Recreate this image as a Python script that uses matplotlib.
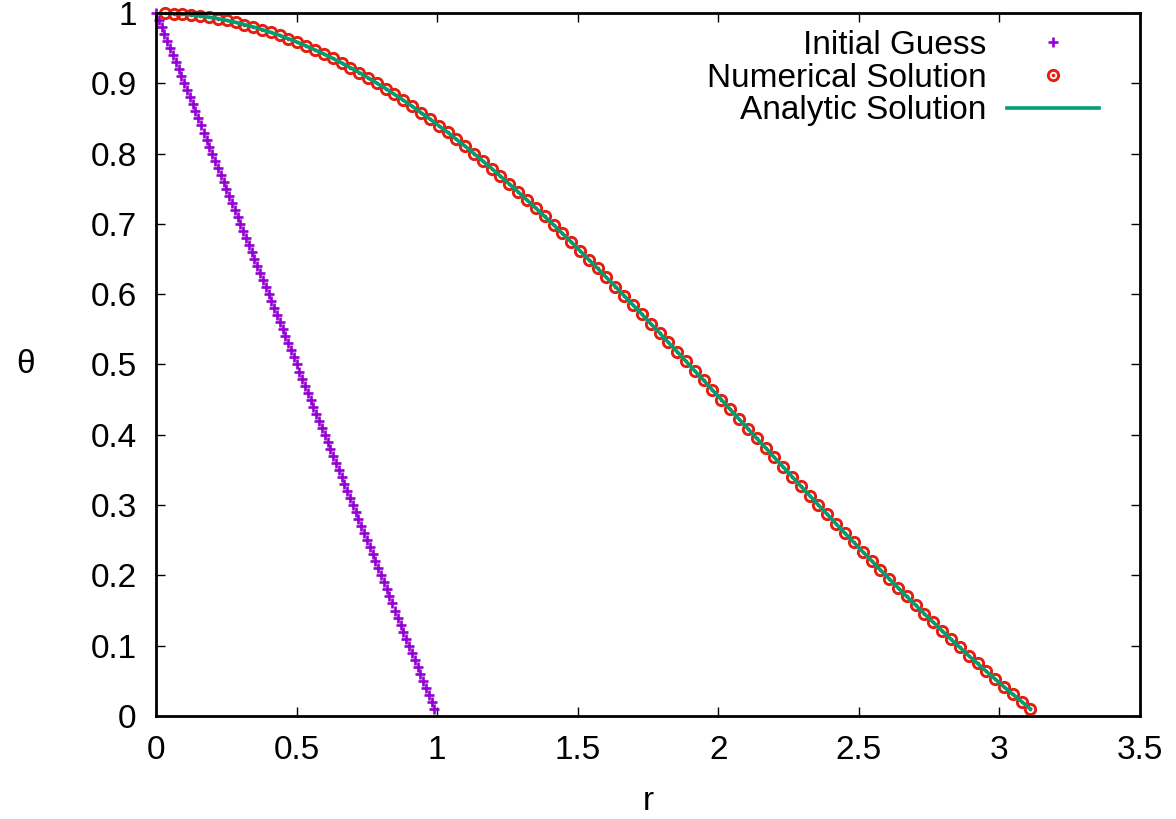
import matplotlib
matplotlib.use('Agg')
import matplotlib.pyplot as plt
from matplotlib.legend_handler import HandlerTuple

plt.rcParams['font.family'] = ['Liberation Sans', 'DejaVu Sans']

# initial guess (linear)
guess_r = [0.00, 0.01, 0.02, 0.03, 0.04, 0.05, 0.06, 0.07, 0.08, 0.09,
           0.10, 0.11, 0.12, 0.13, 0.14, 0.15, 0.16, 0.17, 0.18, 0.19,
           0.20, 0.21, 0.22, 0.23, 0.24, 0.25, 0.26, 0.27, 0.28, 0.29,
           0.30, 0.31, 0.32, 0.33, 0.34, 0.35, 0.36, 0.37, 0.38, 0.39,
           0.40, 0.41, 0.42, 0.43, 0.44, 0.45, 0.46, 0.47, 0.48, 0.49,
           0.50, 0.51, 0.52, 0.53, 0.54, 0.55, 0.56, 0.57, 0.58, 0.59,
           0.60, 0.61, 0.62, 0.63, 0.64, 0.65, 0.66, 0.67, 0.68, 0.69,
           0.70, 0.71, 0.72, 0.73, 0.74, 0.75, 0.76, 0.77, 0.78, 0.79,
           0.80, 0.81, 0.82, 0.83, 0.84, 0.85, 0.86, 0.87, 0.88, 0.89,
           0.90, 0.91, 0.92, 0.93, 0.94, 0.95, 0.96, 0.97, 0.98, 0.99]
guess_theta = [1.00, 0.99, 0.98, 0.97, 0.96, 0.95, 0.94, 0.93, 0.92, 0.91,
               0.90, 0.89, 0.88, 0.87, 0.86, 0.85, 0.84, 0.83, 0.82, 0.81,
               0.80, 0.79, 0.78, 0.77, 0.76, 0.75, 0.74, 0.73, 0.72, 0.71,
               0.70, 0.69, 0.68, 0.67, 0.66, 0.65, 0.64, 0.63, 0.62, 0.61,
               0.60, 0.59, 0.58, 0.57, 0.56, 0.55, 0.54, 0.53, 0.52, 0.51,
               0.50, 0.49, 0.48, 0.47, 0.46, 0.45, 0.44, 0.43, 0.42, 0.41,
               0.40, 0.39, 0.38, 0.37, 0.36, 0.35, 0.34, 0.33, 0.32, 0.31,
               0.30, 0.29, 0.28, 0.27, 0.26, 0.25, 0.24, 0.23, 0.22, 0.21,
               0.20, 0.19, 0.18, 0.17, 0.16, 0.15, 0.14, 0.13, 0.12, 0.11,
               0.10, 0.09, 0.08, 0.07, 0.06, 0.05, 0.04, 0.03, 0.02, 0.01]

# numerical solution points
num_r = [0.031, 0.063, 0.094, 0.126, 0.157, 0.188, 0.220, 0.251, 0.283, 0.314,
         0.346, 0.377, 0.408, 0.440, 0.471, 0.503, 0.534, 0.565, 0.597, 0.628,
         0.660, 0.691, 0.723, 0.754, 0.785, 0.817, 0.848, 0.880, 0.911, 0.942,
         0.974, 1.005, 1.037, 1.068, 1.100, 1.131, 1.162, 1.194, 1.225, 1.257,
         1.288, 1.319, 1.351, 1.382, 1.414, 1.445, 1.477, 1.508, 1.539, 1.571,
         1.602, 1.634, 1.665, 1.696, 1.728, 1.759, 1.791, 1.822, 1.854, 1.885,
         1.916, 1.948, 1.979, 2.011, 2.042, 2.073, 2.105, 2.136, 2.168, 2.199,
         2.231, 2.262, 2.293, 2.325, 2.356, 2.388, 2.419, 2.450, 2.482, 2.513,
         2.545, 2.576, 2.608, 2.639, 2.670, 2.702, 2.733, 2.765, 2.796, 2.827,
         2.859, 2.890, 2.922, 2.953, 2.985, 3.016, 3.047, 3.079, 3.110]
num_theta = [0.9998, 0.9993, 0.9985, 0.9974, 0.9959, 0.9941, 0.9920, 0.9895, 0.9867, 0.9836,
             0.9802, 0.9765, 0.9724, 0.9681, 0.9634, 0.9584, 0.9531, 0.9476, 0.9417, 0.9355,
             0.9290, 0.9223, 0.9152, 0.9079, 0.9003, 0.8925, 0.8843, 0.8759, 0.8673, 0.8584,
             0.8493, 0.8399, 0.8303, 0.8204, 0.8103, 0.8000, 0.7895, 0.7788, 0.7679, 0.7568,
             0.7455, 0.7341, 0.7224, 0.7106, 0.6987, 0.6865, 0.6743, 0.6618, 0.6493, 0.6366,
             0.6238, 0.6109, 0.5979, 0.5848, 0.5716, 0.5583, 0.5450, 0.5316, 0.5181, 0.5046,
             0.4910, 0.4774, 0.4637, 0.4500, 0.4363, 0.4226, 0.4089, 0.3952, 0.3816, 0.3679,
             0.3542, 0.3406, 0.3271, 0.3136, 0.3001, 0.2867, 0.2734, 0.2601, 0.2470, 0.2339,
             0.2209, 0.2080, 0.1952, 0.1826, 0.1700, 0.1576, 0.1453, 0.1332, 0.1212, 0.1093,
             0.0976, 0.0860, 0.0747, 0.0635, 0.0524, 0.0416, 0.0309, 0.0204, 0.0101]

# analytic curve starts at r = 0
ana_r = [0.0] + num_r
ana_theta = [1.0] + num_theta

violet = '#9400d3'
green = '#009e73'
red = '#e51e10'

fig = plt.figure(figsize=(11.76, 8.19), dpi=100)
ax = fig.add_axes([0.1327, 0.1258, 0.9694 - 0.1327, 0.9841 - 0.1258])

h_guess, = ax.plot(guess_r, guess_theta, ls='none', marker='+', ms=7.5,
                   mew=1.9, color=violet, clip_on=False)
h_ring, = ax.plot(num_r, num_theta, ls='none', marker='o', ms=7.4,
                  mew=2.1, mfc='none', mec=red, clip_on=False)
h_dot, = ax.plot(num_r, num_theta, ls='none', marker='o', ms=2.6,
                 mew=0, color=red, clip_on=False)
h_ana, = ax.plot(ana_r, ana_theta, color=green, lw=2.6)

ax.set_xlim(0, 3.5)
ax.set_ylim(0, 1)
ax.set_xticks([0, 0.5, 1, 1.5, 2, 2.5, 3, 3.5])
ax.set_xticklabels(['0', '0.5', '1', '1.5', '2', '2.5', '3', '3.5'])
ax.set_yticks([0, 0.1, 0.2, 0.3, 0.4, 0.5, 0.6, 0.7, 0.8, 0.9, 1])
ax.set_yticklabels(['0', '0.1', '0.2', '0.3', '0.4', '0.5', '0.6', '0.7', '0.8', '0.9', '1'])
ax.tick_params(direction='in', length=6.5, width=1, labelsize=24, pad=14,
               top=True, right=True)
for s in ax.spines.values():
    s.set_linewidth(2)

ax.set_xlabel('r', fontsize=24, va='center')
ax.xaxis.set_label_coords(0.5, -0.122)
ax.set_ylabel('θ', fontsize=24, rotation=0, ha='center', va='center')
ax.yaxis.set_label_coords(-0.133, 0.5)

leg = ax.legend([h_guess, (h_ring, h_dot), h_ana],
                ['Initial Guess', 'Numerical Solution', 'Analytic Solution'],
                handler_map={tuple: HandlerTuple(ndivide=1)},
                loc='upper right', bbox_to_anchor=(0.958, 0.976),
                frameon=False, markerfirst=False, fontsize=24,
                handlelength=2.75, handletextpad=0.62, labelspacing=0.05,
                borderpad=0, borderaxespad=0, numpoints=1)

fig.savefig('out.png', dpi=100)
